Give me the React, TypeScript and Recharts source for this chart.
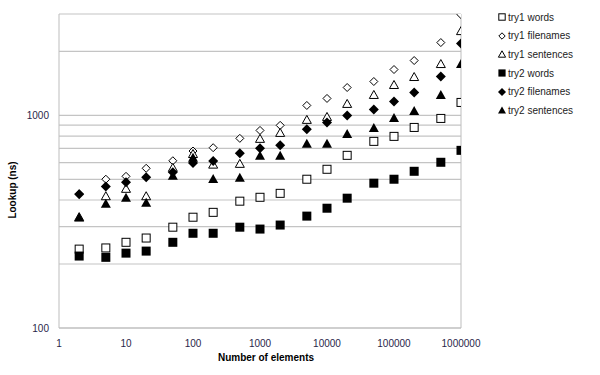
import React from "react";
import {
  ScatterChart,
  Scatter,
  XAxis,
  YAxis,
  CartesianGrid,
  ReferenceLine,
  Label,
} from "recharts";

const xValues = [
  2, 5, 10, 20, 50, 100, 200, 500, 1000, 2000, 5000, 10000, 20000, 50000,
  100000, 200000, 500000, 1000000,
];

const try1Words = [
  235, 238, 253, 265, 298, 332, 350, 395, 412, 430, 501, 558, 649, 755, 797,
  878, 968, 1151,
];
const try1Filenames = [
  428, 501, 517, 564, 612, 680, 705, 780, 850, 898, 1114, 1202, 1353, 1444,
  1644, 1812, 2202, 2979,
];
const try1Sentences = [
  334, 419, 454, 419, 570, 662, 590, 595, 780, 832, 958, 989, 1139, 1255, 1398,
  1524, 1754, 2506,
];
const try2Words = [
  218, 215, 225, 230, 253, 279, 279, 298, 292, 305, 336, 366, 408, 480, 501,
  546, 602, 685,
];
const try2Filenames = [
  426, 463, 485, 512, 540, 598, 610, 663, 700, 723, 860, 927, 1000, 1067, 1163,
  1282, 1524, 2178,
];
const try2Sentences = [
  333, 386, 412, 390, 523, 635, 505, 512, 649, 649, 739, 739, 823, 878, 979,
  1055, 1255, 1754,
];

const xTicks = [1, 10, 100, 1000, 10000, 100000, 1000000];
const yTicks = [100, 200, 300, 400, 500, 600, 700, 800, 900, 1000, 2000, 3000];
const yLabelled = [100, 1000];

type Kind =
  | "openSquare"
  | "openDiamond"
  | "openTriangle"
  | "square"
  | "diamond"
  | "triangle";

const SERIES: { name: string; kind: Kind; values: number[] }[] = [
  { name: "try1 words", kind: "openSquare", values: try1Words },
  { name: "try1 filenames", kind: "openDiamond", values: try1Filenames },
  { name: "try1 sentences", kind: "openTriangle", values: try1Sentences },
  { name: "try2 words", kind: "square", values: try2Words },
  { name: "try2 filenames", kind: "diamond", values: try2Filenames },
  { name: "try2 sentences", kind: "triangle", values: try2Sentences },
];

const FONT = "'Liberation Sans', Arial, sans-serif";

function Marker({
  kind,
  cx,
  cy,
  s = 1,
}: {
  kind: Kind;
  cx: number;
  cy: number;
  s?: number;
}) {
  if (cx == null || cy == null) return null;
  switch (kind) {
    case "openSquare":
      return (
        <rect
          x={cx - 4 * s}
          y={cy - 4 * s}
          width={8 * s}
          height={8 * s}
          fill="#fff"
          stroke="#000"
          strokeWidth={1}
        />
      );
    case "square":
      return (
        <rect
          x={cx - 4.5 * s}
          y={cy - 4.5 * s}
          width={9 * s}
          height={9 * s}
          fill="#000"
        />
      );
    case "openDiamond": {
      const r = 4 * s;
      return (
        <polygon
          points={`${cx},${cy - r} ${cx + r},${cy} ${cx},${cy + r} ${cx - r},${cy}`}
          fill="#fff"
          stroke="#000"
          strokeWidth={1}
        />
      );
    }
    case "diamond": {
      const r = 5 * s;
      return (
        <polygon
          points={`${cx},${cy - r} ${cx + r},${cy} ${cx},${cy + r} ${cx - r},${cy}`}
          fill="#000"
        />
      );
    }
    case "openTriangle": {
      const w = 4.5 * s;
      const h = 4 * s;
      return (
        <polygon
          points={`${cx},${cy - h} ${cx + w},${cy + h} ${cx - w},${cy + h}`}
          fill="#fff"
          stroke="#000"
          strokeWidth={1}
        />
      );
    }
    default: {
      const w = 5 * s;
      const h = 4.5 * s;
      return (
        <polygon
          points={`${cx},${cy - h} ${cx + w},${cy + h} ${cx - w},${cy + h}`}
          fill="#000"
        />
      );
    }
  }
}

// legend sits outside the plot, like the spreadsheet one
function LegendBox() {
  return (
    <div
      style={{
        position: "absolute",
        left: 497,
        top: 8,
        fontFamily: FONT,
        fontSize: 10,
        color: "#222",
      }}
    >
      {SERIES.map((s) => (
        <div
          key={s.name}
          style={{ display: "flex", alignItems: "center", height: 18.6 }}
        >
          <svg width={10} height={10} style={{ marginRight: 1 }}>
            <Marker kind={s.kind} cx={5} cy={5} s={0.8} />
          </svg>
          <span>{s.name}</span>
        </div>
      ))}
    </div>
  );
}

export default function App() {
  return (
    <div
      style={{
        position: "absolute",
        left: 0,
        top: 0,
        width: 600,
        height: 375,
        background: "#fff",
      }}
    >
      <ScatterChart
        width={600}
        height={375}
        margin={{ top: 14, right: 139, bottom: 17, left: 0 }}
      >
        <CartesianGrid vertical={false} stroke="#c4c4c4" strokeWidth={1.2} />
        <XAxis
          type="number"
          dataKey="x"
          scale="log"
          domain={[1, 1000000]}
          ticks={xTicks}
          allowDataOverflow
          height={30}
          tickLine={false}
          tickMargin={6}
          axisLine={{ stroke: "#bdbdbd" }}
          tick={{ fill: "#2a1f4a", fontSize: 10, fontFamily: FONT }}
        >
          <Label
            value="Number of elements"
            position="insideBottom"
            offset={-3}
            dx={6}
            style={{
              fontFamily: FONT,
              fontSize: 10,
              fontWeight: "bold",
              fill: "#000",
            }}
          />
        </XAxis>
        <YAxis
          type="number"
          dataKey="y"
          scale="log"
          domain={[100, 3000]}
          ticks={yTicks}
          allowDataOverflow
          width={59}
          tickLine={false}
          tickMargin={4}
          interval={0}
          axisLine={{ stroke: "#bdbdbd" }}
          tickFormatter={(v: number) => (yLabelled.includes(v) ? String(v) : "")}
          tick={{ fill: "#2a1f4a", fontSize: 10, fontFamily: FONT }}
        >
          <Label
            value="Lookup (ns)"
            angle={-90}
            position="insideLeft"
            offset={12}
            dy={19}
            style={{
              fontFamily: FONT,
              fontSize: 10,
              fontWeight: "bold",
              fill: "#000",
              textAnchor: "middle",
            }}
          />
        </YAxis>
        <ReferenceLine x={1000000} stroke="#bdbdbd" />
        {SERIES.map((s) => (
          <Scatter
            key={s.name}
            name={s.name}
            data={xValues.map((x, i) => ({ x, y: s.values[i] }))}
            isAnimationActive={false}
            // eslint-disable-next-line @typescript-eslint/no-explicit-any
            shape={(p: any) => <Marker kind={s.kind} cx={p.cx} cy={p.cy} />}
          />
        ))}
      </ScatterChart>
      <LegendBox />
    </div>
  );
}
